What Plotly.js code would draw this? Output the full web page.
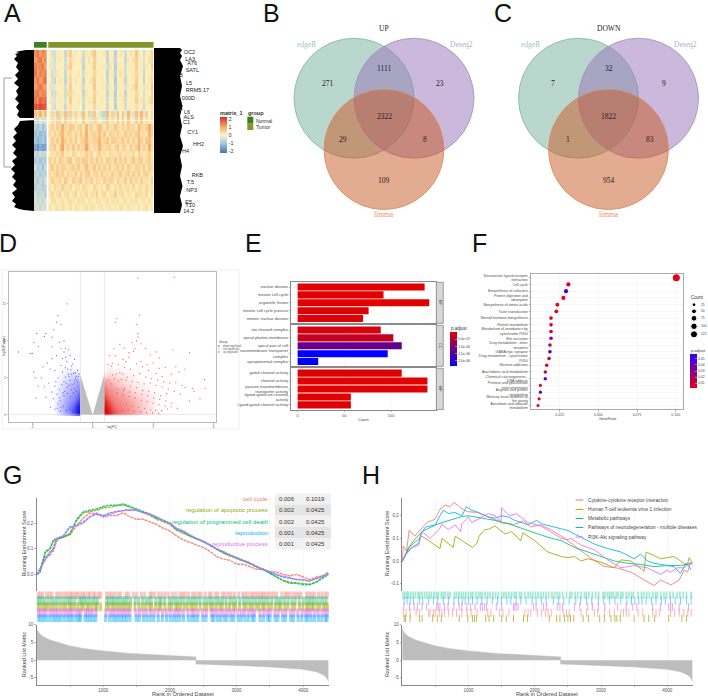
<!DOCTYPE html>
<html><head><meta charset="utf-8">
<script src="https://cdn.plot.ly/plotly-3.0.0.min.js"></script>
<style>html,body{margin:0;padding:0;background:#fff}</style></head>
<body><div id="chart" style="width:708px;height:697px"></div>
<script>
// ---------- A: heatmap ----------
const heatNormal=[
[1.3,1.5,1.1,1.4,1.2],[1.1,1.4,1.5,1,1.3],[1.4,1.2,1.3,1.5,1.1],[1.5,1.1,1.4,1.2,1.4],[1.2,1.5,1.1,1.3,1.6],
[1.1,1.3,1.5,1.2,1.1],[1.4,1.5,1.2,1.4,1.3],[1.5,1.3,1.7,1.5,1.6],[1.9,1.8,2.0,1.9,1.8],[.7,.4,.9,.3,.8],
[-.4,-.6,-.3,-.5,-.4],[-.8,-1,-.7,-1.1,-.8],[-1.1,-.9,-1.2,-1,-1.1],[-1,-1.3,-1.1,-.9,-1.2],[-1.5,-1.7,-1.4,-1.6,-1.5],
[-.6,-.8,-.5,-.7,-.6],[-.9,-.7,-1,-.8,-.9],[-.5,-.9,-.7,-1.1,-.6],[-.8,-.6,-.9,-.7,-.8],[-.7,-.9,-.6,-.8,-.5],
[-.8,-.6,-.7,-.9,-.7],[-.5,-.7,-.6,-.5,-.8],[-.4,-.6,-.5,-.7,-.4],[-.5,-.4,-.6,-.4,-.5]];
const heatTumor=[
[.1,-.4,-.5,.2,.1,.1,-.6,.3,.5,.1,.2,-.1,.1,-.5,.2,.1,.3,.6,.1,-.1,.1,.2,-.6,.1,.1,-.8,.1,.2,.1,-.5,.1,.3,.1,.6,.2,-.1,-.5,.1,.2,.5],
[.1,-.3,-.5,.1,.2,.1,-.5,.1,.4,.2,-.1,.1,.2,-.6,.1,.3,.1,.5,.2,.1,-.2,.1,-.7,.1,.2,-.7,.1,.1,.1,-.6,.2,.1,.3,.5,.1,.1,-.4,.1,.3,.4],
[.2,-.3,-.4,.1,.1,-.1,-.5,.3,.5,.1,.1,.1,-.1,-.7,.1,.1,.2,.5,.1,.1,.1,-.2,-.5,.3,.1,-.8,.2,.1,.1,-.5,.1,.2,.1,.5,.1,-.2,-.5,.2,.1,.5],
[.1,-.5,-.3,.2,.1,.1,-.6,.1,.3,.1,-.1,.2,.1,-.5,.2,-.1,.1,.4,.2,.1,.1,.1,-.7,.1,.2,-.7,.1,.3,.1,-.5,.1,.1,.2,.4,.2,.1,-.6,.1,.1,.3],
[.1,-.4,-.6,.1,.2,.1,-.7,.2,.4,.1,.2,.1,.1,-.7,.1,.1,.3,.5,.1,-.1,.2,.1,-.6,.1,.1,-.9,.1,.1,.2,-.6,.1,.1,.1,.5,.1,.1,-.7,.1,.2,.4],
[.2,-.3,-.3,.1,-.1,.1,-.5,.1,.5,.1,.1,-.1,.2,-.5,.1,.1,.1,.6,.1,.1,.1,.2,-.5,.2,.1,-.7,.2,.1,.1,-.4,.2,.1,.3,.6,.1,.1,-.3,.2,.1,.6],
[.1,-.5,-.5,.2,.1,.1,-.5,.3,.4,.2,-.1,.1,.1,-.7,.2,.1,.1,.4,.2,.1,-.1,.1,-.7,.1,.2,-.8,.1,.2,.1,-.7,.1,.2,.1,.4,.2,-.1,-.5,.1,.1,.5],
[.1,-.3,-.4,.1,.2,-.1,-.4,.1,.5,.1,.1,.2,.1,-.5,.1,.2,.2,.5,.1,.1,.2,.1,-.5,.1,.1,-.7,.1,.1,.2,-.5,.1,.1,.2,.5,.1,.2,-.4,.1,.3,.5],
[0,-.3,-.5,.1,.1,.1,-.6,.1,.3,.1,.1,.1,0,-.6,.1,.1,.1,.4,.1,.1,.1,.1,-.6,.1,.1,-.8,.1,.1,.1,-.5,.1,.1,.1,.3,.1,.1,-.6,.1,.1,.3],
[-.1,.4,-.3,.6,-.5,.3,.7,-.5,.5,-.3,.5,.2,-.4,.7,-.2,.5,-.5,.6,.1,-.3,-.6,-.7,.8,-.2,.5,-.4,.7,-.1,.6,-.3,.8,.2,-.4,.7,.3,.8,-.3,.5,-.1,.4],
[-.1,.3,-.2,.4,.5,-.1,.5,-.3,.3,.1,.3,.1,-.1,.6,.1,.2,-.3,.4,.3,-.1,-.3,-.4,.5,.1,.3,-.2,.6,.1,.5,-.1,.6,.1,-.2,.5,.1,.6,-.1,.3,.1,.3],
[.3,.5,.2,.5,.3,.9,.4,.3,.6,.5,.1,.4,.5,.2,.8,.3,.5,.2,.4,.7,.5,.2,.5,.3,.3,.6,.4,.2,.5,.3,.5,.3,.4,.2,.8,.4,.3,.5,.9,.5],
[.4,.2,.5,.3,.6,.8,.3,.5,.4,.2,.5,.3,.6,.3,.9,.2,.4,.5,.3,.7,.3,.6,.2,.5,.4,.3,.5,.3,.2,.6,.3,.5,.3,.5,.7,.3,.4,.2,.8,.5],
[.2,.5,.3,.5,.3,.9,.5,.2,.5,.3,.6,.2,.4,.5,.8,.4,.3,.5,.5,.8,.3,.4,.6,.2,.5,.5,.3,.4,.6,.3,.5,.2,.5,.3,.8,.5,.2,.6,.7,.3],
[.3,.4,.6,.2,.5,1,.3,.5,.3,.6,.2,.5,.3,.4,1,.5,.2,.4,.3,.8,.5,.3,.4,.5,.2,.4,.6,.2,.5,.4,.2,.6,.3,.5,.9,.3,.5,.3,.9,.4],
[.1,.3,.2,.4,.3,.6,.2,.3,.1,.4,.3,.1,.3,.2,.5,.3,.4,.1,.3,.5,.2,.3,.1,.4,.3,.2,.3,.4,.1,.3,.3,.2,.4,.1,.5,.3,.2,.3,.5,.2],
[.5,.3,.5,.2,.6,.4,.3,.5,.6,.2,.4,.5,.3,.6,.5,.2,.5,.3,.6,.3,.5,.2,.5,.4,.3,.6,.2,.5,.3,.5,.2,.4,.6,.3,.5,.5,.2,.4,.5,.3],
[.3,.6,.2,.5,.3,.5,.4,.2,.4,.5,.3,.6,.2,.3,.7,.4,.3,.6,.2,.5,.3,.5,.3,.6,.2,.4,.5,.3,.6,.2,.5,.3,.2,.5,.4,.3,.6,.2,.5,.4],
[.4,.2,.4,.6,.3,.5,.2,.5,.3,.3,.6,.2,.5,.3,.5,.6,.2,.4,.5,.2,.6,.3,.4,.2,.5,.3,.3,.6,.2,.4,.5,.2,.5,.3,.6,.2,.4,.5,.3,.2],
[.2,.5,.3,.3,.5,.2,.6,.3,.2,.5,.3,.4,.6,.2,.4,.3,.5,.2,.4,.3,.2,.5,.3,.5,.4,.2,.5,.3,.3,.5,.2,.6,.3,.4,.2,.5,.3,.3,.2,.5],
[.3,.1,.4,.3,.2,.5,.3,.2,.4,.1,.3,.3,.1,.4,.3,.2,.1,.4,.3,.2,.3,.1,.5,.3,.1,.3,.2,.4,.1,.3,.3,.2,.4,.1,.3,.3,.1,.4,.2,.3],
[.2,.4,.1,.3,.5,.1,.3,.4,.1,.3,.5,.1,.3,.2,.4,.1,.3,.3,.5,.1,.3,.4,.1,.2,.3,.5,.1,.3,.4,.1,.3,.2,.1,.4,.3,.3,.2,.4,.1,.3],
[.1,.3,.3,.1,.2,.3,.1,.3,.3,.2,.1,.3,.2,.3,.1,.3,.2,.1,.3,.3,.1,.2,.3,.1,.3,.2,.3,.1,.2,.3,.1,.3,.2,.3,.1,.2,.3,.1,.3,.1],
[.3,.1,.2,.3,.1,.3,.2,.1,.3,.1,.3,.2,.1,.2,.3,.1,.3,.2,.1,.2,.3,.1,.2,.3,.1,.2,.1,.3,.2,.1,.3,.1,.2,.1,.3,.1,.2,.3,.1,.2]];
const geneLabels=["OC2","LA3","A76","SATL","B","L5","RRM5.17","000D","E","L6","ALS","C1","CY1","HH2","H4","RKB","T.5","NP3","E5","Y10","14.2"];
const geneEndX=[195,195,197,199,183,192,209,195,183,190,194,190,198,204,189,203,194,197,192,195,194];
const geneY=[53,60,64,71,76,84,91,99,109,113,118,123,133,145,152,176,183,191,203,206,212];
const dendroBlackX=[34,34,20,17,19,16,19,15,18,16,19,14,18,15,19,16,18,14,17,15,19,16,20,22,26,34,34,20,18,14,17,13,16,12,16,13,17,12,15,11,15,12,16,13,17,12,15,12,16,14,19,24,34];
const dendroBlackY=[50,118,118,115,111,107,103,99,95,91,87,83,79,75,71,67,63,59,56,54,53,52,51,50.5,50,50,120,121,125,129,133,137,141,145,149,153,157,161,165,169,173,177,181,185,189,193,197,201,204,207,209,210,211];
const dendroTrunkX=[4,4,null,4,12,null,4,11];
const dendroTrunkY=[78,167,null,78,78,null,167,167];
const rightBlackX=[154,154,180,182,180,182.5,180,182,180,183,180,182,180,182.5,180,182,180,183,180,182,180,182,180,154];
const rightBlackY=[48,213,213,205,196,186,176,166,156,146,136,126,116,106,96,86,76,66,60,56,53,50,48,48];
// ---------- B/C: Venn ----------
const vennLabels=["edgeR","Deseq2","limma"];
const upTitle="UP", downTitle="DOWN";
const upCounts=[271,1111,23,2322,29,8,109];
const downCounts=[7,32,9,1822,1,83,954];
// ---------- D: volcano ----------
const blueX=[-.85,-1.15,-1.2,-1.05,-1.3,-1.55,-1.85,-1.35,-1.6,-.95,-1.8,-2,-2.05,-2.45,-1.95,-1.35,-1.1,-1.05,-.9,-.8,-.95,-1.2,-1.35,-1,-.75,-.85,-1.5,-1.65,-1.95,-1.9,-1.7,-1.4,-1.25,-1.05,-.9,-.7,-.6,-.5,-.55,-.8,-1.15,-1.45,-1.6,-1.8,-1.88,-1.55,-1.35,-1.25,-1.1,-.95,-1.15,-1.4,-1.25,-1.05,-1.1,-.95,-.85,-.75,-.68,-.6,-.5,-.47,-.72,-.63,-.56,-.9,-1,-.78,-.66,-.83,-.58,-1.22,-1.02,-.88,-.7,-.52,-.6,-1.3,-1.18,-.92,-.8,-.64,-.74,-1.08,-.98,-.84,-.55,-.67,-.77,-.87,-.97,-1.07,-1.17,-.45,-.5,-.6,-.7,-.9];
const blueY=[15,13.4,12.5,12.2,11.5,11,11,10.5,10.6,10,9.2,8.3,8.3,8.5,9.8,9.2,9.8,9,9,8.8,8.5,8,7.6,7.6,8,7.2,7,6.5,5.8,5,5,6.2,6,6.7,6.4,6.6,7.5,6,5.2,5.5,5,4.3,3.8,3.9,2.3,2.4,3.1,3.9,3.4,4.5,1.5,1,.8,1,2.3,2.6,3.7,4.7,4.1,4.6,3.9,5.2,6.1,5.6,4.9,5.1,5.8,5.2,6.9,6.2,5.7,4.5,4.1,4.3,3.4,4.7,3.6,2.2,2.8,3.2,4,3,2.5,1.9,3,2.9,3.2,.5,.8,.6,1.2,.5,.9,5.5,4.4,4.2,5.5,7.8];
const redX=[1.5,2.7,.75,.8,1.45,1.55,1.5,1.5,1.45,1.3,1.4,1.35,1.2,1.05,.9,.75,1.2,1.1,1.0,.7,.55,.62,1.6,1.75,2.1,1.9,2.2,2.65,3.2,2.75,2.85,3.05,1.6,1.8,2,2.2,2.4,2.6,2.3,2.1,1.85,1.65,1.45,1.25,1.05,.85,.65,.5,1.0,.9,.78,.66,1.15,1.35,1.55,1.75,1.95,2.15,2.35,2.55,2.75,2.95,3.3,3.35,3.7,3.72,3.55,3.2,3.05,2.9,2.7,2.5,2.3,2.1,1.9,1.7,1.5,1.3,1.1,.95,.85,.72,.6,.52,2.45,2.25,2.05,1.85,1.65,1.45,1.25,1.05,2.62,2.42,2.22,2.02,1.82,1.62,1.42,1.22,1.02,.82,2.8,2.6,2.4,2.2,2,1.8,1.6,1.4,1.2,1,.8,1.92,1.72,1.52,1.32,1.12,2.08,2.28,2.48,1.58,1.38,1.18,.98,.78,1.78,1.98,2.18];
const redY=[18.5,18.6,12.5,13,12.2,13.5,11,10.5,10,9.8,9,8.6,8.4,9,9.5,8,7.8,7.2,7.5,9,8,6.6,9.6,9,8.5,8.1,7.7,8.8,8.4,6.5,5.8,6.2,7.2,6.8,7,6.3,6.4,5.5,5.2,5.6,6,6.5,6.9,6.2,6.4,6.8,7,6.8,5.5,5.7,5.5,5.4,5.1,5.3,5.6,5.1,4.9,4.7,4.5,4.3,4.4,4,3.6,3.2,4.8,3.6,2.2,1.9,3.7,2.8,3.2,3.5,3.8,4,4.3,4.2,4.4,4.5,4.7,4.8,4.6,4.9,4.2,4.7,2.9,2.6,3,3.2,3.3,3.7,3.9,3.6,1.6,1.9,2.1,2.3,2.6,2.8,3,3.1,3.3,3.5,.9,1.1,1.2,1.4,1.6,1.8,2,2.3,2.5,2.7,3,.7,.9,1,1.2,1.4,.6,.6,.8,.4,.5,.7,.6,.4,.3,.3,.2];
const grayLeftX=[0,-.41,-.41], grayLeftY=[0,5.4,.05];
const grayRightX=[0,.38,.38], grayRightY=[0,5.4,.05];
const blueDensX=[-1.35,-1.25,-1.15,-1.05,-.95,-.85,-.75,-.65,-.55,-.47,-.43];
const blueDensY=[.2,.7,1.2,1.8,2.4,3,3.6,4.2,4.8,5.4,6,6.8];
const blueDens=[
[0,.03,.12,.18,.28,.38,.5,.68,.85,.98,1],[0,.06,.15,.22,.32,.42,.55,.7,.85,.95,1],[0,.08,.16,.24,.3,.4,.52,.62,.8,.9,.95],
[0,.05,.14,.2,.28,.36,.42,.52,.66,.8,.85],[0,.05,.1,.18,.25,.3,.38,.45,.55,.68,.72],[0,.04,.08,.15,.2,.28,.3,.38,.45,.55,.6],
[0,.03,.07,.12,.18,.22,.28,.3,.38,.45,.48],[0,.02,.05,.1,.14,.2,.25,.25,.3,.35,.38],[0,0,.03,.06,.1,.14,.18,.2,.22,.22,.2],
[0,0,.02,.04,.07,.1,.12,.14,.14,.1,.05],[0,0,0,.02,.04,.06,.07,.06,.05,.02,0],[0,0,0,0,0,0,0,0,0,0,0]];
const redDensX=[.4,.45,.55,.65,.75,.85,1,1.15,1.3,1.5,1.7,1.9,2.1,2.3];
const redDensY=[.2,.7,1.2,1.8,2.4,3,3.6,4.2,4.8,5.4,6.2,7];
const redDens=[
[1,.98,.9,.75,.6,.5,.42,.36,.3,.22,.14,.08,.03,0],[1,.95,.88,.72,.58,.48,.42,.34,.28,.22,.14,.08,.03,0],[.95,.9,.78,.62,.5,.45,.38,.32,.26,.2,.14,.08,.03,0],
[.85,.8,.65,.5,.42,.38,.33,.28,.24,.18,.12,.08,.03,0],[.72,.66,.52,.42,.36,.32,.28,.24,.2,.14,.1,.06,.02,0],[.6,.52,.42,.36,.3,.28,.24,.2,.15,.1,.07,.04,.01,0],
[.48,.4,.33,.3,.25,.22,.2,.15,.1,.07,.05,.02,0,0],[.38,.3,.26,.24,.2,.18,.14,.1,.07,.05,.03,.01,0,0],[.22,.2,.2,.17,.14,.12,.1,.07,.05,.03,.01,0,0,0],
[.08,.1,.12,.1,.08,.07,.06,.04,.03,.01,0,0,0,0],[0,.03,.05,.04,.03,.03,.02,.02,.01,0,0,0,0,0],[0,0,0,0,0,0,0,0,0,0,0,0,0,0]];
const volcanoGroups=["down-regulated","not-significant","up-regulated"];
// ---------- E: GO bars ----------
const bpTerms=["nuclear division","meiotic cell cycle","organelle fission","meiotic cell cycle process","meiotic nuclear division"];
const bpCount=[136,92,141,76,70];
const bpP=[2e-8,3e-8,2e-8,5e-8,6e-8];
const ccTerms=["ion channel complex","apical plasma membrane","apical part of cell","transmembrane transporter<br>complex","synaptonemal complex"];
const ccCount=[89,102.5,111.5,96.5,22];
const ccP=[1.2e-7,3e-7,1.3e-6,2.34e-6,2.34e-6];
const mfTerms=["gated channel activity","channel activity","passive transmembrane<br>transporter activity","ligand-gated ion channel<br>activity","ligand-gated channel activity"];
const mfCount=[111.5,139,139,57,57];
const mfP=[3e-8,2e-8,2e-8,4e-8,4e-8];
// ---------- F: KEGG dots ----------
const keggTerms=["Neuroactive ligand-receptor<br>interaction","Cell cycle","Biosynthesis of cofactors","Protein digestion and<br>absorption","Biosynthesis of amino acids","Taste transduction","Steroid hormone biosynthesis","Retinol metabolism","Metabolism of xenobiotics by<br>cytochrome P450","Bile secretion","Drug metabolism - other<br>enzymes","GABAergic synapse","Drug metabolism - cytochrome<br>P450","Nicotine addiction","Arachidonic acid metabolism","Chemical carcinogenesis -<br>DNA adducts","Pentose and glucuronate<br>interconversions","Arginine and proline<br>metabolism","Maturity onset diabetes of<br>the young","Ascorbate and aldarate<br>metabolism"];
const keggRatio=[.1004,.0306,.0291,.0274,.0235,.0228,.0194,.0194,.0194,.0194,.0187,.0187,.0181,.0166,.0157,.0157,.0125,.0125,.0117,.011];
const keggCount=[125,38,36,34,29,28,24,24,24,24,23,23,22,21,20,20,16,16,15,14];
const keggP=[.001,.003,.05,.002,.002,.002,.003,.003,.004,.028,.016,.055,.01,.004,.014,.047,.004,.044,.004,.005];
const countLegend=[25,50,75,100,125];
// ---------- G / H: GSEA ----------
const metricRank=[1,20,50,100,200,300,500,700,1000,1400,1800,2200,2390,2391,2600,3000,3500,4000,4200,4300,4350,4380];
const metricValue=[8.6,8,7.3,6.6,5.7,5.1,4,3.3,2.6,1.9,1.4,1.1,.9,-1.1,-1.2,-1.5,-1.9,-2.6,-3.3,-4.1,-4.9,-6];
const gSets=["cell cycle","regulation of apoptotic process","regulation of programmed cell death","reproduction","reproductive process"];
const gP=["0.006","0.002","0.002","0.001","0.001"];
const gQ=["0.1019","0.0425","0.0425","0.0425","0.0425"];
const gRedX=[1,50,100,150,200,250,300,350,400,500,600,700,800,900,1000,1100,1200,1300,1400,1500,1600,1700,1800,1900,2000,2100,2200,2300,2400,2500,2600,2700,2800,2900,3000,3100,3200,3300,3400,3500,3600,3700,3800,3900,4000,4100,4200,4300,4380];
const gRedY=[0,.01,.06,.07,.09,.09,.13,.145,.15,.155,.19,.22,.24,.235,.225,.23,.23,.24,.225,.215,.215,.205,.195,.18,.17,.15,.135,.125,.115,.105,.09,.07,.06,.055,.04,.04,.03,.02,.02,.01,.01,0,-.005,0,-.01,-.02,-.01,-.005,.01];
const gGreenX=[1,50,100,130,200,250,300,400,500,550,600,650,700,800,900,1000,1100,1200,1300,1400,1500,1600,1700,1800,1900,2000,2100,2200,2300,2400,2500,2600,2700,2800,2900,3000,3100,3200,3300,3400,3500,3600,3700,3800,3900,4000,4100,4200,4300,4380];
const gGreenY=[0,.01,.06,.09,.1,.135,.14,.145,.16,.19,.215,.23,.245,.25,.255,.265,.27,.27,.275,.265,.255,.245,.235,.22,.21,.2,.175,.165,.15,.14,.13,.115,.1,.085,.075,.065,.055,.045,.03,.02,.005,-.01,-.025,-.035,-.035,-.04,-.04,-.03,-.015,0];
const gOliveY=[0,.012,.055,.085,.1,.13,.135,.145,.155,.185,.21,.225,.24,.245,.25,.26,.262,.268,.27,.262,.25,.24,.23,.215,.205,.195,.172,.16,.148,.138,.128,.112,.098,.083,.072,.062,.052,.042,.028,.018,.004,-.01,-.022,-.03,-.032,-.036,-.038,-.028,-.012,.002];
const gBlueX=[1,100,150,200,250,300,400,450,500,600,700,800,900,1000,1100,1200,1350,1500,1600,1700,1800,1900,2000,2100,2200,2300,2400,2500,2600,2700,2800,2900,3000,3100,3200,3300,3400,3500,3600,3700,3800,3900,4000,4100,4200,4380];
const gBlueY=[0,.045,.07,.08,.105,.14,.15,.17,.185,.19,.205,.225,.235,.23,.24,.245,.252,.25,.242,.235,.222,.212,.2,.178,.168,.152,.14,.13,.115,.1,.088,.074,.065,.054,.043,.03,.02,.008,-.002,-.01,-.015,-.02,-.022,-.026,-.016,.002];
const gPurpleY=[0,.04,.065,.075,.1,.14,.15,.165,.185,.19,.2,.225,.24,.225,.235,.245,.25,.25,.24,.235,.225,.21,.2,.18,.17,.155,.14,.13,.115,.1,.09,.075,.065,.055,.045,.03,.02,.01,0,-.008,-.012,-.02,-.02,-.025,-.015,0];
const gRugRed=[20,55,90,150,190,230,300,340,385,430,470,510,540,580,610,650,690,720,770,800,850,880,930,960,1050,1090,1130,1170,1220,1260,1340,1380,1450,1500,1570,1620,1700,1730,1770,1830,1880,1930,1980,2040,2090,2150,2190,2230,2280,2340,2380,2430,2470,2530,2590,2620,2680,2720,2790,2830,2880,2920,2970,3030,3090,3130,3170,3220,3250,3290,3330,3370,3400,3440,3480,3520,3560,3600,3680,3730,3760,3800,3850,3890,3930,3970,4050,4090,4130,4170,4230,4280,4330,4370];
const gRugGreen=[15,45,80,120,170,220,265,310,360,410,455,490,525,575,640,675,710,745,790,835,875,915,1050,1085,1125,1160,1200,1240,1285,1320,1360,1410,1480,1530,1590,1640,1680,1720,1790,1840,1870,1920,1990,2030,2075,2120,2165,2210,2265,2310,2355,2400,2450,2510,2560,2605,2650,2700,2745,2790,2840,2900,2945,2990,3050,3105,3150,3195,3245,3290,3340,3385,3430,3475,3530,3590,3630,3670,3720,3775,3830,3880,3940,4000,4045,4085,4120,4160,4205,4255,4300,4345];
const gRugOlive=[10,50,95,130,165,210,255,300,350,400,440,495,520,565,615,665,700,755,785,830,880,905,960,1045,1080,1130,1165,1210,1250,1290,1330,1370,1405,1475,1535,1585,1635,1690,1725,1785,1835,1865,1925,1985,2025,2085,2115,2160,2215,2260,2315,2350,2395,2455,2515,2555,2610,2645,2695,2750,2785,2845,2895,2950,2985,3045,3110,3145,3200,3240,3295,3335,3390,3425,3480,3525,3585,3635,3665,3725,3770,3835,3875,3945,3995,4050,4080,4125,4155,4210,4250,4305,4340,4375];
const gRugPurple=[25,60,100,140,200,240,280,320,370,420,460,500,535,590,630,660,730,760,800,840,890,1040,1100,1140,1180,1230,1275,1315,1355,1395,1490,1545,1600,1650,1710,1760,1820,1890,1945,2000,2060,2105,2145,2200,2270,2330,2365,2420,2490,2545,2625,2665,2710,2765,2810,2860,2910,2960,3020,3075,3120,3180,3230,3270,3350,3410,3465,3505,3575,3625,3690,3740,3810,3860,3920,3985,4035,4075,4115,4175,4225,4285,4330,4365];
const gRugBlue=[30,65,105,145,195,245,285,325,365,415,465,505,545,595,635,655,725,765,805,845,885,1035,1095,1145,1185,1225,1270,1310,1350,1400,1495,1540,1605,1655,1705,1755,1825,1885,1950,2005,2055,2100,2150,2205,2275,2325,2370,2415,2495,2540,2630,2660,2715,2760,2815,2855,2915,2955,3025,3070,3125,3175,3235,3265,3355,3405,3470,3500,3580,3620,3695,3735,3815,3855,3925,3980,4040,4070,4120,4170,4230,4280,4335,4360];
const hSets=["Cytokine-cytokine receptor interaction","Human T-cell leukemia virus 1 infection","Metabolic pathways","Pathways of neurodegeneration - multiple diseases","PI3K-Akt signaling pathway"];
const hRedX=[1,15,65,105,190,280,370,495,570,650,720,785,875,975,1125,1230,1380,1535,1685,1835,1935,2085,2237,2440,2640,2845,3045,3245,3450,3600,3800,3900,4055,4180,4257,4307,4348];
const hRedY=[0,.066,.043,.136,.11,.14,.17,.185,.229,.248,.241,.259,.237,.219,.215,.204,.185,.17,.162,.177,.151,.16,.14,.103,.058,.013,-.024,-.031,-.049,-.076,-.109,-.084,-.106,-.084,-.039,-.049,-.01];
const hOliveX=[1,100,200,300,570,600,770,800,1060,1130,1160,1250,1300,1400,1550,1650,1790,1820,2000,2200,2400,2500,2600,2700,2800,3000,3200,3300,3450,3650,3680,3800,3900,4000,4100,4200,4300,4330,4380];
const hOliveY=[0,.06,.085,.11,.055,.1,.06,.11,.06,.08,.11,.14,.14,.155,.12,.13,.09,.125,.09,.04,.02,.015,.02,0,.01,-.005,-.03,.005,0,-.045,.04,.025,.01,.015,.02,0,-.02,.015,-.01];
const hGreenX=[1,100,200,300,400,500,600,700,800,900,1000,1100,1200,1300,1400,1500,1600,1700,1800,2000,2200,2400,2600,2800,3000,3200,3400,3600,3800,4000,4200,4380];
const hGreenY=[0,.06,.1,.13,.145,.16,.17,.18,.19,.197,.2,.195,.19,.185,.18,.17,.165,.155,.145,.125,.105,.09,.06,.04,.02,0,-.01,-.015,-.025,-.02,-.02,-.01];
const hBlueX=[1,100,250,280,350,500,550,620,700,800,900,970,1050,1150,1300,1400,1500,1600,1700,1800,1900,2030,2100,2300,2500,2700,2900,3100,3300,3500,3600,3700,3800,4000,4100,4200,4280,4320,4360];
const hBlueY=[0,.05,.08,.12,.15,.16,.19,.225,.21,.215,.2,.24,.225,.215,.195,.19,.2,.195,.18,.17,.16,.18,.165,.15,.135,.105,.075,.055,.04,.01,.03,0,-.01,-.02,-.025,-.055,-.01,-.02,-.04];
const hPurpleX=[1,60,150,250,300,420,560,600,650,700,800,880,900,1000,1050,1150,1300,1400,1490,1500,1620,1720,1900,2100,2300,2400,2500,2550,2700,2900,3100,3300,3500,3700,3900,4000,4050,4150,4250,4350,4380];
const hPurpleY=[-.005,.03,.06,.07,.13,.1,.14,.165,.15,.14,.16,.13,.165,.195,.17,.185,.21,.2,.175,.235,.2,.21,.17,.155,.12,.1,.095,.1,.07,.05,.005,-.03,-.02,-.03,-.06,-.04,-.05,-.03,-.03,-.005,-.02];
const hRugGreen=[10,40,70,95,130,165,200,240,265,300,340,375,410,440,480,515,545,590,620,650,690,720,790,820,855,890,925,960,1000,1035,1065,1110,1150,1180,1210,1250,1290,1325,1370,1410,1450,1500,1535,1570,1610,1650,1690,1720,1770,1800,1850,1900,1935,1970,2010,2050,2090,2130,2170,2210,2260,2300,2340,2375,2420,2480,2530,2560,2610,2650,2700,2750,2780,2815,2870,2920,2965,3030,3060,3100,3130,3160,3190,3230,3260,3300,3330,3380,3420,3460,3490,3560,3610,3650,3690,3730,3780,3820,3850,3900,3950,3990,4040,4090,4150,4190,4240,4290,4360];
const hRugBlue=[30,75,120,170,260,310,400,470,530,620,700,780,850,905,950,1000,1060,1130,1200,1280,1360,1440,1500,1580,1640,1720,1790,1870,1960,2020,2100,2170,2280,2360,2440,2520,2620,2690,2780,2860,2960,3040,3130,3210,3300,3390,3460,3510,3570,3620,3680,3760,3830,3910,3970,4050,4120,4200,4290,4360];
const hRugPurple=[25,110,180,230,300,370,520,545,570,640,690,780,860,900,975,1030,1100,1180,1210,1240,1270,1420,1500,1680,1700,1720,1750,1980,2020,2130,2180,2340,2380,2420,2600,2680,2800,2870,2960,3060,3250,3380,3480,3540,3780,3900,4020,4050,4080,4180,4320];
const hRugRed=[15,60,120,210,260,400,420,470,500,560,600,640,700,760,820,900,980,1040,1130,1290,1340,1470,1520,1610,1850,1900,1940,2040,2100,2160,2200,2250,2430,2480,2520,2700,2780,2900,2950,3050,3130,3200,3300,3340,3380,3420,3560,3630,3780,3830,3880,4050,4110,4180,4250,4310,4360];
const hRugOlive=[30,50,120,260,300,460,530,590,860,990,1060,1090,1120,1260,1310,1380,1500,1570,1680,1830,1890,2220,2330,2380,2450,2500,2540,2590,2730,2810,2980,3050,3150,3210,3240,3290,3500,3650,3720,3810,4020,4220,4290];

// ---------- build ----------
const W=708,H=697,SANS="Liberation Sans",SERIF="Liberation Serif";
const RED="#F8766D",OLIVE="#A3A500",GREEN="#00BF7D",BLUE="#00B0F6",PURPLE="#E76BF3";
const alpha=(hex,a)=>"rgba("+[1,3,5].map(i=>parseInt(hex.substr(i,2),16)).join(",")+","+a+")";
const traces=[],shapes=[],annotations=[];
const layout={width:W,height:H,margin:{l:0,r:0,t:0,b:0},paper_bgcolor:"#fff",plot_bgcolor:"rgba(0,0,0,0)",showlegend:false,font:{family:SANS},shapes,annotations,
 xaxis:{domain:[0,1],range:[0,W],visible:false,fixedrange:true},yaxis:{domain:[0,1],range:[H,0],visible:false,fixedrange:true}};
let axisN=1;
function plot(x0,x1,y0,y1,xc,yc){axisN++;const a={xaxis:"x"+axisN,yaxis:"y"+axisN};
 layout["xaxis"+axisN]=Object.assign({domain:[x0/W,x1/W],anchor:a.yaxis,showgrid:false,zeroline:false,showticklabels:false,ticks:"",fixedrange:true},xc);
 layout["yaxis"+axisN]=Object.assign({domain:[1-y1/H,1-y0/H],anchor:a.xaxis,showgrid:false,zeroline:false,showticklabels:false,ticks:"",fixedrange:true},yc);
 return a;}
function T(x,y,text,o){o=o||{};annotations.push({xref:"x",yref:"y",x,y,text,showarrow:false,xanchor:o.a||"center",yanchor:"middle",textangle:o.angle||0,align:o.a||"center",
 font:{size:o.s||5,color:o.c||"#333",family:o.f||SANS},bgcolor:"rgba(0,0,0,0)",borderpad:0});}
function rect(x0,y0,x1,y1,fill,line,lw){shapes.push({type:"rect",xref:"x",yref:"y",x0,y0,x1,y1,fillcolor:fill||"rgba(0,0,0,0)",line:{color:line||"rgba(0,0,0,0)",width:lw||0}});}
function seg(x0,y0,x1,y1,c,w){shapes.push({type:"line",xref:"x",yref:"y",x0,y0,x1,y1,line:{color:c,width:w||1}});}
function circle(cx,cy,r,fill,line){shapes.push({type:"circle",xref:"x",yref:"y",x0:cx-r,x1:cx+r,y0:cy-r,y1:cy+r,fillcolor:fill,line:{color:line,width:.8}});}
function poly(a,xs,ys,c){traces.push(Object.assign({type:"scatter",mode:"lines",x:xs,y:ys,fill:"toself",fillcolor:c,line:{width:0},hoverinfo:"skip"},a));}
const TICK={ticks:"outside",ticklen:1.5,tickwidth:.5,tickcolor:"#666"};

// letters
[["A",12,13],["B",271,13],["C",503,13],["D",8,243],["E",253,243],["F",479,243],["G",12,475],["H",371,475]].forEach(l=>T(l[1],l[2],l[0],{s:25,c:"#111"}));

// A
const CS=[[0,"#4575b4"],[.27,"#a3c6e0"],[.5,"#fdf6c3"],[.73,"#f7a565"],[1,"#d73027"]];
const aN=plot(34,46.7,50,211,{range:[-.5,4.5]},{range:[23.5,-.5]});
const aT=plot(48.3,153.5,50,211,{range:[-.5,39.5]},{range:[23.5,-.5]});
traces.push(Object.assign({type:"heatmap",z:heatNormal,zmin:-2.25,zmax:2.25,colorscale:CS,showscale:false,hoverinfo:"skip"},aN));
traces.push(Object.assign({type:"heatmap",z:heatTumor,zmin:-2.25,zmax:2.25,colorscale:CS,hoverinfo:"skip",
 colorbar:{x:220/W,xanchor:"left",xpad:0,y:1-116.7/H,yanchor:"top",ypad:0,lenmode:"pixels",len:36,thicknessmode:"pixels",thickness:6.7,outlinewidth:0,tickvals:[-2,-1,0,1,2],ticktext:["-2","-1","0","1","2"],ticks:"",tickfont:{size:5.5,color:"#333"}}},aT));
rect(34,42,46.7,47.7,"#3f7f20");rect(48.3,42,153.5,47.7,"#85942a");
seg(34,110.5,153.5,110.5,"rgba(255,255,255,.8)",.7);seg(34,120.5,153.5,120.5,"rgba(255,255,255,.8)",.7);
poly({},dendroBlackX,dendroBlackY,"#000");
traces.push({type:"scatter",mode:"lines",x:dendroTrunkX,y:dendroTrunkY,line:{color:"#777",width:.7},hoverinfo:"skip"});
poly({},rightBlackX,rightBlackY,"#000");
traces.push({type:"scatter",mode:"text",x:geneEndX,y:geneY,text:geneLabels,textposition:"middle left",textfont:{size:5.5,color:"#222",family:SANS},hoverinfo:"skip"});
T(219,113,"<b>matrix_1</b>",{a:"left",s:5.5});T(247,113,"<b>group</b>",{a:"left",s:5.5});
rect(247.3,116.7,253.3,123.7,"#3f7f20");rect(247.3,124,253.3,130,"#85942a");
T(255,120.5,"Normal",{a:"left",s:5});T(255,127.3,"Tumor",{a:"left",s:5});

// B, C
function venn(cx,title,counts){
 const t="#7fb5a4",p="#a88cc2",o="#d98a62";
 circle(cx-30,98.2,60,"rgba(118,176,158,.5)",t);circle(cx+30,98.2,60,"rgba(150,116,182,.5)",p);circle(cx,149.5,60,"rgba(200,88,32,.5)",o);
 T(cx,28,title,{f:SERIF,s:7.5,c:"#222"});
 T(cx-78,44,vennLabels[0],{f:SERIF,s:7.5,c:"#9dc7b9"});T(cx+77,44,vennLabels[1],{f:SERIF,s:7.5,c:"#bca6d2"});T(cx,214.5,vennLabels[2],{f:SERIF,s:7.5,c:"#df8f6b"});
 const pos=[[-56,83],[0,68],[55.5,83],[0,116],[-41,139],[41,139],[0,180]];
 counts.forEach((v,i)=>T(cx+pos[i][0],pos[i][1],String(v),{f:SERIF,s:7.5,c:"#222"}));
}
venn(384,upTitle,upCounts);venn(608.5,downTitle,downCounts);

// D
rect(2,270,239,429,"rgba(0,0,0,0)","#efefef",1);
const dA=plot(9,216,272,422,{range:[-2.77,4.08],showline:true,mirror:true,linecolor:"#bbb",linewidth:1,showticklabels:true,tickvals:[-2,0,2,4],ticktext:["-2","0","2","4"],tickfont:{size:3,color:"#555"},...TICK},
 {range:[-.95,19.3],showline:true,mirror:true,linecolor:"#bbb",linewidth:1,showticklabels:true,tickvals:[0,5,10,15],tickfont:{size:3,color:"#555"},...TICK});
poly(dA,grayLeftX,grayLeftY,"#bdbdbd");poly(dA,grayRightX,grayRightY,"#bdbdbd");
traces.push(Object.assign({type:"heatmap",x:blueDensX,y:blueDensY,z:blueDens,zmin:0,zmax:1,zsmooth:"best",showscale:false,hoverinfo:"skip",colorscale:[[0,"rgba(60,60,255,0)"],[.3,"rgba(50,50,255,.4)"],[1,"rgba(0,0,235,1)"]]},dA));
traces.push(Object.assign({type:"heatmap",x:redDensX,y:redDensY,z:redDens,zmin:0,zmax:1,zsmooth:"best",showscale:false,hoverinfo:"skip",colorscale:[[0,"rgba(245,60,60,0)"],[.3,"rgba(240,50,50,.5)"],[1,"rgba(222,0,0,1)"]]},dA));
traces.push(Object.assign({type:"scatter",mode:"markers",x:blueX,y:blueY,marker:{size:1.3,color:"rgba(50,50,255,.7)"},hoverinfo:"skip"},dA));
traces.push(Object.assign({type:"scatter",mode:"markers",x:redX,y:redY,marker:{size:1.3,color:"rgba(235,50,50,.75)"},hoverinfo:"skip"},dA));
[-.41,.385].forEach(v=>traces.push(Object.assign({type:"scatter",mode:"lines",x:[v,v],y:[-.95,19.3],line:{color:"#ccc",width:.5},hoverinfo:"skip"},dA)));
traces.push(Object.assign({type:"scatter",mode:"lines",x:[-2.77,4.08],y:[.08,.08],line:{color:"#ccc",width:.5},hoverinfo:"skip"},dA));
T(112,427,"log(FC)",{s:3,c:"#444"});T(3.5,347,"-log10(P value)",{s:3,c:"#444",angle:-90});
T(218,342,"Group",{a:"left",s:3,c:"#444"});
[["#2222ff",346],["#bdbdbd",349],["#e22",352]].forEach((g,i)=>{rect(218.2,g[1]-.6,219.6,g[1]+.6,g[0]);T(222,g[1],volcanoGroups[i],{a:"left",s:2.6,c:"#555"});});

// E
const eX={range:[-6.8,148.5],showgrid:true,gridcolor:"#f1f1f1",gridwidth:.5,tickvals:[0,50,100]};
const eY={type:"category",range:[4.6,-.6],showticklabels:true,tickfont:{size:4,color:"#4d4d4d"},...TICK};
const frame={showline:true,mirror:true,linecolor:"#8a8a8a",linewidth:1};
const ePan=[[282.3,323.3,bpTerms,bpCount,bpP,"BP"],[325.3,366.3,ccTerms,ccCount,ccP,"CC"],[368.3,409.7,mfTerms,mfCount,mfP,"MF"]];
ePan.forEach((p,i)=>{
 const a=plot(291.3,436.3,p[0],p[1],Object.assign({},eX,frame,i==2?{showticklabels:true,tickfont:{size:4,color:"#4d4d4d"},...TICK}:{}),Object.assign({},eY,frame));
 const m={color:p[4].map(v=>-v),cmin:-2.35e-6,cmax:0,colorscale:[[0,"#0000ff"],[1,"#e30000"]],line:{width:0}};
 if(i==0)m.colorbar={x:450/W,xanchor:"left",xpad:0,y:1-332/H,yanchor:"top",ypad:0,lenmode:"pixels",len:34,thicknessmode:"pixels",thickness:7,outlinewidth:0,tickvals:[-5e-7,-1e-6,-1.5e-6,-2e-6],ticktext:["5.0e-07","1.0e-06","1.5e-06","2.0e-06"],ticks:"inside",ticklen:1.5,tickcolor:"#fff",tickwidth:.4,tickfont:{size:3.5,color:"#444"}};
 traces.push(Object.assign({type:"bar",orientation:"h",y:p[2],x:p[3],width:.9,marker:m,hoverinfo:"skip"},a));
 rect(436.3,p[0],443.3,p[1],"#d6d6d6","#8a8a8a",.8);
 T(439.8,(p[0]+p[1])/2,p[5],{s:3.8,c:"#444",angle:90});
});
T(363.5,419,"Count",{s:4,c:"#444"});T(449.5,328,"p.adjust",{a:"left",s:4.5,c:"#333"});

// F
const fA=plot(531,683.3,274,409.3,{range:[.00645,.1049],...frame,linecolor:"#aaa",showgrid:true,gridcolor:"#f0f0f0",gridwidth:.5,showticklabels:true,tickvals:[.025,.05,.075,.1],ticktext:["0.025","0.050","0.075","0.100"],tickfont:{size:3.5,color:"#4d4d4d"},...TICK},
 {type:"category",range:[19.55,-.55],...frame,linecolor:"#aaa",showgrid:true,gridcolor:"#f0f0f0",gridwidth:.5,showticklabels:true,tickfont:{size:3.6,color:"#4d4d4d"},...TICK});
const dia=c=>1+.54*Math.sqrt(c);
traces.push(Object.assign({type:"scatter",mode:"markers",x:keggRatio,y:keggTerms,hoverinfo:"skip",marker:{size:keggCount.map(dia),opacity:1,color:keggP,cmin:.002,cmax:.058,colorscale:[[0,"#e6001a"],[1,"#2a00ff"]],line:{width:0},
 colorbar:{x:690/W,xanchor:"left",xpad:0,y:1-354/H,yanchor:"top",ypad:0,lenmode:"pixels",len:34,thicknessmode:"pixels",thickness:6.7,outlinewidth:0,tickvals:[.01,.02,.03,.04,.05],ticktext:["0.01","0.02","0.03","0.04","0.05"],ticks:"inside",ticklen:1.5,tickcolor:"#fff",tickwidth:.4,tickfont:{size:3.3,color:"#444"}}}},fA));
T(607,419,"GeneRatio",{s:3.6,c:"#444"});
T(690,297,"Count",{a:"left",s:4.5});T(690,350.7,"p.adjust",{a:"left",s:4});
const cY=[304.7,311.3,318.3,326.3,334.3];
traces.push({type:"scatter",mode:"markers",x:countLegend.map(()=>694),y:cY,marker:{size:countLegend.map(dia),opacity:1,color:"#000"},hoverinfo:"skip"});
countLegend.forEach((c,i)=>T(700,cY[i],String(c),{a:"left",s:3.3,c:"#444"}));

// G, H
const gl={showgrid:true,gridcolor:"#eeeeee",gridwidth:.5,tickvals:[500,1000,1500,2000,2500,3000,3500,4000]};
const ylab={size:4.5,color:"#555"};
function gsea(x0,x1,rugRows,lines,yr,yt,ytt,rowH){
 const xr=[0,4385];
 const a1=plot(x0,x1,498,590.6,Object.assign({range:xr},gl),{range:yr,showline:true,linecolor:"#888",linewidth:1,showticklabels:true,tickvals:yt,ticktext:ytt,tickfont:ylab,...TICK});
 lines.forEach(l=>traces.push(Object.assign({type:"scatter",mode:"lines",x:l[0],y:l[1],line:{color:l[2],width:l[3],dash:l[4]||"solid"},opacity:.85,hoverinfo:"skip"},a1)));
 const a2=plot(x0,x1,591.6,622,{range:xr},{range:[0,5]});
 rugRows.forEach((r,i)=>traces.push(Object.assign({type:"scatter",mode:"markers",x:r[0],y:r[0].map(()=>4.5-i),marker:{symbol:"line-ns",size:rowH,line:{color:alpha(r[1],r[3]),width:r[2]}},hoverinfo:"skip"},a2)));
 const a3=plot(x0,x1,624.6,685,Object.assign({range:xr,showline:true,linecolor:"#888",linewidth:1},gl,{showticklabels:true,ticktext:["","1000","","2000","","3000","","4000"],tickfont:ylab,...TICK,ticklen:1}),
  {range:[-7,10],showline:true,linecolor:"#888",linewidth:1,showticklabels:true,tickvals:[-5,0,5,10],ticktext:["-5","0","5","10"],tickfont:ylab,...TICK});
 traces.push(Object.assign({type:"scatter",mode:"lines",x:metricRank,y:metricValue,fill:"tozeroy",fillcolor:"#bdbdbd",line:{color:"#bdbdbd",width:.5},hoverinfo:"skip"},a3));
}
const dsh="3px,.7px";
gsea(36.7,328.8,[[gRugRed,RED,3,.42],[gRugGreen,GREEN,3,.4],[gRugOlive,OLIVE,3,.5],[gRugPurple,PURPLE,3.2,.5],[gRugBlue,BLUE,3.2,.45]],
 [[gRedX,gRedY,RED,1.4,dsh],[gGreenX,gOliveY,OLIVE,1.4,dsh],[gGreenX,gGreenY,GREEN,1.4,dsh],[gBlueX,gBlueY,BLUE,1.4,dsh],[gBlueX,gPurpleY,PURPLE,1.4,dsh]],
 [-.063,.298],[0,.1,.2],["0.0","0.1","0.2"],6.4);
gsea(402.2,692.8,[[hRugGreen,GREEN,1.8,.35],[hRugBlue,BLUE,.9,.6],[hRugPurple,PURPLE,.9,.7],[hRugRed,RED,.9,.6],[hRugOlive,OLIVE,.9,.8]],
 [[hRedX,hRedY,RED,1],[hOliveX,hOliveY,OLIVE,1],[hGreenX,hGreenY,GREEN,1],[hBlueX,hBlueY,BLUE,1],[hPurpleX,hPurpleY,PURPLE,1]],
 [-.131,.279],[-.1,0,.1,.2],["-0.1","0.0","0.1","0.2"],5.8);
T(23.6,543.8,"Running Enrichment Score",{s:5.5,c:"#444",angle:-90});T(23.6,654.6,"Ranked List Metric",{s:5.5,c:"#444",angle:-90});
T(182.6,694.2,"Rank in Ordered Dataset",{s:5.6,c:"#444"});
T(386.5,543.8,"Running Enrichment Score",{s:5.5,c:"#444",angle:-90});T(386.5,654.6,"Ranked List Metric",{s:5.5,c:"#444",angle:-90});
T(547,694.2,"Rank in Ordered Dataset",{s:5.6,c:"#444"});
const gRowY=[499,510,521.6,532.6,543.6],gCol=[RED,OLIVE,GREEN,BLUE,PURPLE];
gSets.forEach((s,i)=>{
 rect(275,gRowY[i]-5.6,331,gRowY[i]+5.6,i%2?"#e4e4e4":"#f1f1f1");
 T(269,gRowY[i],s,{a:"right",s:6,c:gCol[i]});
 T(287.4,gRowY[i],gP[i],{s:6,c:"#333"});T(315.7,gRowY[i],gQ[i],{s:6,c:"#333"});
});
const hRowY=[500,509.4,518.5,527.5,537],hCol=[RED,OLIVE,GREEN,BLUE,PURPLE];
hSets.forEach((s,i)=>{seg(575.6,hRowY[i],583.3,hRowY[i],hCol[i],1);T(586.7,hRowY[i],s,{a:"left",s:4.8,c:"#444"});});

Plotly.newPlot("chart",traces,layout,{staticPlot:true,displayModeBar:false});
</script></body></html>
